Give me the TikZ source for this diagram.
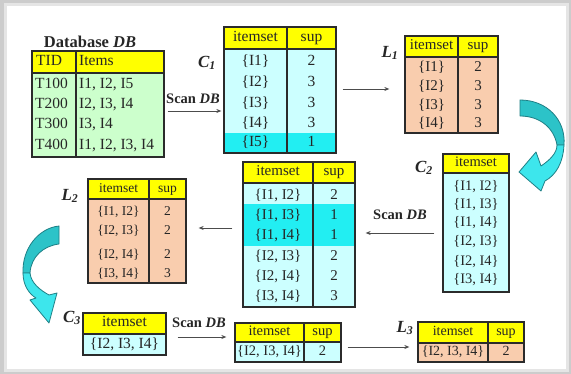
\documentclass[tikz,border=0pt]{standalone}
\usepackage{fontspec}
\setmainfont{Liberation Serif}
\usetikzlibrary{arrows.meta,fit}

\definecolor{hdrcol}{HTML}{FFFF00}
\definecolor{candcol}{HTML}{CCFFFF}
\definecolor{hotcol}{HTML}{22EEF2}
\definecolor{freqcol}{HTML}{F9CDAE}
\definecolor{dbcol}{HTML}{CCFFCC}
\definecolor{rulecol}{HTML}{2B2B2B}
\definecolor{arrowback}{HTML}{2CC3C8}
\definecolor{arrowfront}{HTML}{3DE6EC}
\definecolor{arrowedge}{HTML}{1F7F85}

% #1 name, #2 left, #3 top, #4 right, #5 bottom, #6 header bottom,
% #7 body colour, #8 extra drawing (highlights, column rules)
\newcommand\tableframe[8]{%
  \fill[#7] (#2,#6) rectangle (#4,#5);
  \fill[hdrcol] (#2,#3) rectangle (#4,#6);
  #8
  \draw[hrule] (#2,#6) -- (#4,#6);
  \node[tframe, fit={(#2,#3) (#4,#5)}] (#1) {};
}

\begin{document}
\begin{tikzpicture}[x=1pt, y=-1pt,
  tframe/.style={draw=rulecol, line width=1.3pt, inner sep=0pt},
  hrule/.style={draw=rulecol, line width=1.8pt},
  vrule/.style={draw=rulecol, line width=1.4pt},
  cell/.style={font=\fontsize{#1}{18}\selectfont, text=black!85, inner sep=0pt, anchor=mid, yshift=-1pt},
  cell/.default=15,
  setlabel/.style={font=\fontsize{17}{17}\selectfont\bfseries\itshape, text=black!85, inner sep=0pt},
  scanlabel/.style={font=\fontsize{14.5}{17}\selectfont\bfseries, text=black!85, inner sep=0pt},
  conn/.style={draw=black!70, line width=0.8pt, -{Stealth[length=5pt,width=4pt]}},
  bentarrow/.style={draw=arrowedge, line width=0.8pt, line join=round}
]
% frame
\fill[gray!40] (0,0) rectangle (571,374);
\fill[gray!20] (4,3) rectangle (569,372);
\fill[white] (7,6) rectangle (566,369);
\useasboundingbox (0,0) rectangle (571,374);

% ---------- database ----------
\node[font=\fontsize{16.5}{18}\selectfont\bfseries, text=black!85, inner sep=0pt] (dbtitle) at (90,42) {Database \textit{DB}};
\tableframe{db}{32}{51}{164}{157}{73}{dbcol}{\draw[vrule] (76,51) -- (76,157);}
\node[cell=15.5, anchor=mid west] (db-h1) at (36,62) {TID};
\node[cell=15.5, anchor=mid west] (db-h2) at (79,62) {Items};
\foreach \a/\b/\y [count=\i] in {T100/{I1, I2, I5}/85, T200/{I2, I3, I4}/105, T300/{I3, I4}/125, T400/{I1, I2, I3, I4}/146}{
  \node[cell=15.5, anchor=mid west] (db-t\i) at (35,\y) {\a};
  \node[cell=15.5, anchor=mid west] (db-i\i) at (79,\y) {\b};
}

% ---------- C1 ----------
\node[setlabel] (c1-name) at (207,63) {C\textsubscript{1}};
\tableframe{c1}{224}{27}{336}{153}{49}{candcol}{\fill[hotcol] (224,133) rectangle (336,153); \draw[vrule] (287,27) -- (287,153);}
\node[cell=15.5] (c1-h1) at (255.5,38) {itemset};
\node[cell=15.5] (c1-h2) at (311.5,38) {sup};
\foreach \s/\n/\y [count=\i] in {{\{I1\}}/2/62, {\{I2\}}/3/83, {\{I3\}}/3/104, {\{I4\}}/3/124, {\{I5\}}/1/143}{
  \node[cell=15.5] (c1-s\i) at (255.5,\y) {\s};
  \node[cell=15.5] (c1-n\i) at (311.5,\y) {\n};
}

% ---------- L1 ----------
\node[setlabel] (l1-name) at (390,53) {L\textsubscript{1}};
\tableframe{l1}{405}{36}{498}{133}{57}{freqcol}{\draw[vrule] (458,36) -- (458,133);}
\node[cell] (l1-h1) at (431.5,46.5) {itemset};
\node[cell] (l1-h2) at (478,46.5) {sup};
\foreach \s/\n/\y [count=\i] in {{\{I1\}}/2/68, {\{I2\}}/3/87, {\{I3\}}/3/106, {\{I4\}}/3/124}{
  \node[cell] (l1-s\i) at (431.5,\y) {\s};
  \node[cell] (l1-n\i) at (478,\y) {\n};
}

% ---------- C2 (join) ----------
\node[setlabel] (c2-name) at (424,168) {C\textsubscript{2}};
\tableframe{c2}{443}{154}{509}{292}{173}{candcol}{}
\node[cell=14.5] (c2-h1) at (476,163.5) {itemset};
\foreach \s/\y [count=\i] in {{\{I1, I2\}}/187, {\{I1, I3\}}/205, {\{I1, I4\}}/223, {\{I2, I3\}}/242, {\{I2, I4\}}/262, {\{I3, I4\}}/280}{
  \node[cell=14.5] (c2-s\i) at (476,\y) {\s};
}

% ---------- C2 with counts ----------
\tableframe{c2s}{243}{162}{355}{307}{183}{candcol}{\fill[hotcol] (243,204) rectangle (355,246); \draw[vrule] (313,162) -- (313,307);}
\node[cell] (c2s-h1) at (278,172.5) {itemset};
\node[cell] (c2s-h2) at (334,172.5) {sup};
\foreach \s/\n/\y [count=\i] in {{\{I1, I2\}}/2/196, {\{I1, I3\}}/1/216, {\{I1, I4\}}/1/236, {\{I2, I3\}}/2/257, {\{I2, I4\}}/2/277, {\{I3, I4\}}/3/297}{
  \node[cell] (c2s-s\i) at (278,\y) {\s};
  \node[cell] (c2s-n\i) at (334,\y) {\n};
}

% ---------- L2 ----------
\node[setlabel] (l2-name) at (70,196) {L\textsubscript{2}};
\tableframe{l2}{88}{179}{186}{283}{199}{freqcol}{\draw[vrule] (149,179) -- (149,283);}
\node[cell=13.5] (l2-h1) at (118.5,189) {itemset};
\node[cell=13.5] (l2-h2) at (167.5,189) {sup};
\foreach \s/\n/\y [count=\i] in {{\{I1, I2\}}/2/212, {\{I2, I3\}}/2/231, {\{I2, I4\}}/2/255, {\{I3, I4\}}/3/274}{
  \node[cell=13.5] (l2-s\i) at (118.5,\y) {\s};
  \node[cell=13.5] (l2-n\i) at (167.5,\y) {\n};
}

% ---------- C3 ----------
\node[setlabel] (c3-name) at (72,318) {C\textsubscript{3}};
\tableframe{c3}{83}{313}{166}{355}{334}{candcol}{}
\node[cell=15.5] (c3-h1) at (124.5,323.5) {itemset};
\node[cell=15.5] (c3-s1) at (124.5,345) {\{I2, I3, I4\}};

% ---------- C3 with counts ----------
\tableframe{c3s}{235}{323}{341}{362}{342}{candcol}{\draw[vrule] (304,323) -- (304,362);}
\node[cell=14.5] (c3s-h1) at (269.5,332.5) {itemset};
\node[cell=14.5] (c3s-h2) at (322.5,332.5) {sup};
\node[cell=14.5] (c3s-s1) at (269.5,352) {\{I2, I3, I4\}};
\node[cell=14.5] (c3s-n1) at (322.5,352) {2};

% ---------- L3 ----------
\node[setlabel] (l3-name) at (405,328) {L\textsubscript{3}};
\tableframe{l3}{418}{322}{524}{362}{343}{freqcol}{\draw[vrule] (488,322) -- (488,362);}
\node[cell=14] (l3-h1) at (453,332.5) {itemset};
\node[cell=14] (l3-h2) at (506,332.5) {sup};
\node[cell=14] (l3-s1) at (453,352.5) {\{I2, I3, I4\}};
\node[cell=14] (l3-n1) at (506,352.5) {2};

% ---------- scan labels ----------
\node[scanlabel] (scan1) at (193,99) {Scan \textit{DB}};
\node[scanlabel] (scan2) at (400,215) {Scan \textit{DB}};
\node[scanlabel] (scan3) at (199,323) {Scan \textit{DB}};

% ---------- connectors ----------
\draw[conn] ([shift={(3pt,-7pt)}]db.east) -- ([shift={(-2pt,-21pt)}]c1.west);
\draw[conn] ([shift={(6pt,1pt)}]c1.east) -- ([shift={(-15pt,-4.5pt)}]l1.west);
\draw[conn] ([shift={(-8pt,-10pt)}]c2.west) -- ([shift={(10pt,1.5pt)}]c2s.east);
\draw[conn] ([shift={(-10pt,6.5pt)}]c2s.west) -- ([shift={(12pt,3pt)}]l2.east);
\draw[conn] ([shift={(11pt,-3pt)}]c3.east) -- ([shift={(-8pt,5.5pt)}]c3s.west);
\draw[conn] ([shift={(6pt,-4.5pt)}]c3s.east) -- ([shift={(-8pt,-5pt)}]l3.west);

% ---------- curved block arrows ----------
% right side: L1 down to C2 (back face, then front face with head)
\path[bentarrow, fill=arrowback]
  (520,100) .. controls (547,100) and (566,120) .. (564,145)
  -- (557,145) .. controls (554,128) and (540,116) .. (520,116) -- cycle;
\path[bentarrow, fill=arrowfront]
  (564,145) .. controls (563,163) and (556,175) .. (545,181)
  -- (541,191) -- (519,172) -- (536,152) -- (541,166)
  .. controls (550,160) and (557,153) .. (557,145) -- cycle;
% left side: L2 down to C3
\path[bentarrow, fill=arrowback]
  (59,226) .. controls (39,228) and (22,248) .. (23,273)
  -- (30,273) .. controls (31,257) and (43,246) .. (59,244) -- cycle;
\path[bentarrow, fill=arrowfront]
  (23,273) .. controls (23,285) and (29,294) .. (36,298)
  -- (30,300) -- (49,323) -- (57,293) -- (49,295)
  .. controls (40,290) and (31,283) .. (30,273) -- cycle;
\end{tikzpicture}
\end{document}
